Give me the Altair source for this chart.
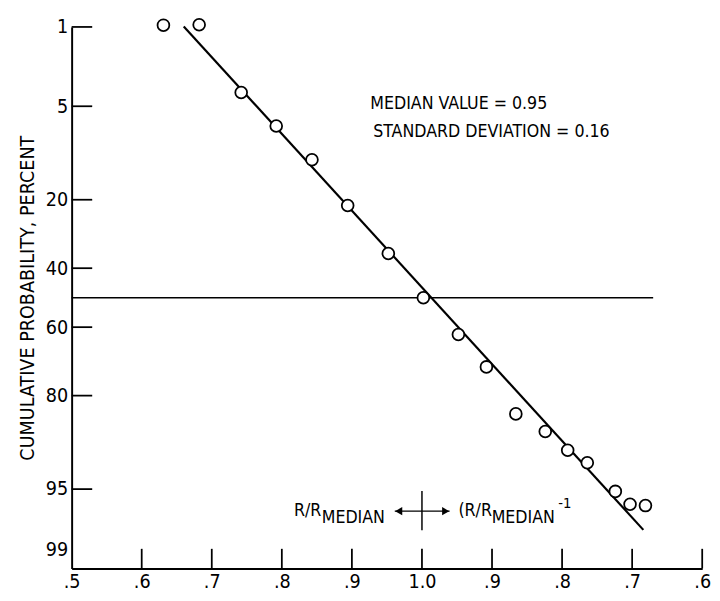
import altair as alt
import pandas as pd
from statistics import NormalDist

FONT = "DejaVu Sans Condensed, Liberation Sans Narrow, Roboto Condensed, sans-serif"

# Observed points: position on the folded ratio axis (left: R/Rmed, right: 2 - (R/Rmed)^-1)
point_pos = [0.631, 0.682, 0.742, 0.792, 0.843, 0.894, 0.952, 1.002, 1.052, 1.092,
             1.134, 1.176, 1.208, 1.236, 1.276, 1.297, 1.319]
# Cumulative probability, percent
point_pct = [0.96, 0.95, 3.9, 7.0, 11.8, 21.4, 35.2, 50.0, 62.4, 72.4,
             84.1, 87.5, 90.5, 92.2, 95.2, 96.2, 96.3]

# Fitted straight line (end points)
fit_pos = [0.660, 1.316]
fit_pct = [0.99, 97.7]

# Horizontal 50 % reference line
median_pos = [0.5, 1.33]
median_pct = [50.0, 50.0]

x_tick_values = [0.5, 0.6, 0.7, 0.8, 0.9, 1.0, 1.1, 1.2, 1.3, 1.4]
y_tick_pcts = [1, 5, 20, 40, 60, 80, 95, 99]

stats_lines = ["MEDIAN VALUE = 0.95", "STANDARD DEVIATION = 0.16"]

nd = NormalDist()


def z(p):
    return nd.inv_cdf(p / 100.0)


W, H = 644, 553
ymin, ymax = z(1), z(99)

xscale = alt.Scale(domain=[0.5, 1.4], nice=False, zero=False)
yscale = alt.Scale(domain=[ymin, ymax], reverse=True, nice=False, zero=False)

pts = pd.DataFrame({"pos": point_pos, "z": [z(p) for p in point_pct]})
fit = pd.DataFrame({"pos": fit_pos, "z": [z(p) for p in fit_pct]})
med = pd.DataFrame({"pos": median_pos, "z": [z(p) for p in median_pct]})
xt = pd.DataFrame({"pos": x_tick_values[1:]})
yt = pd.DataFrame({"z": [z(p) for p in y_tick_pcts[:-1]]})

x_axis = alt.Axis(
    values=x_tick_values,
    labelExpr="datum.value == 1 ? '1.0' : replace(format(datum.value <= 1 ? datum.value : 2 - datum.value, '.1f'), '0.', '.')",
    ticks=False, grid=False, domainWidth=2, domainColor="black",
    labelFont=FONT, labelFontSize=20, labelColor="black", labelPadding=4,
    labelFlush=False, labelOverlap=False, title=None,
)
y_axis = alt.Axis(
    values=[z(p) for p in y_tick_pcts],
    labelExpr="format(cumulativeNormal(datum.value) * 100, '.0f')",
    ticks=False, grid=False, domainWidth=2, domainColor="black",
    labelFont=FONT, labelFontSize=20, labelColor="black", labelPadding=4,
    labelOffset={"condition": {"test": "datum.value > 2", "value": -19}, "value": 0},
    labelFlush=False, labelOverlap=False,
    title="CUMULATIVE PROBABILITY, PERCENT", titleFont=FONT, titleFontSize=20,
    titleFontWeight="normal", titleColor="black", titlePadding=8,
)

base_x = alt.X("pos:Q", scale=xscale, axis=x_axis)
base_y = alt.Y("z:Q", scale=yscale, axis=y_axis)

median_line = alt.Chart(med).mark_line(color="black", strokeWidth=1.5).encode(x=base_x, y=base_y)
fit_line = alt.Chart(fit).mark_line(color="black", strokeWidth=2.2).encode(
    x=alt.X("pos:Q", scale=xscale), y=alt.Y("z:Q", scale=yscale))
points = alt.Chart(pts).mark_point(shape="circle", size=145, filled=False, fill="white",
                                   fillOpacity=1, stroke="black", strokeWidth=1.8).encode(
    x=alt.X("pos:Q", scale=xscale), y=alt.Y("z:Q", scale=yscale))

x_ticks = alt.Chart(xt).mark_rule(color="black", strokeWidth=1.8).encode(
    x=alt.X("pos:Q", scale=xscale), y=alt.value(H), y2=alt.value(H - 20))
y_ticks = alt.Chart(yt).mark_rule(color="black", strokeWidth=1.8).encode(
    y=alt.Y("z:Q", scale=yscale), x=alt.value(0), x2=alt.value(21))

stats_df = pd.DataFrame({"t": stats_lines, "xo": [305, 308], "yo": [84, 112]})
stats = alt.Chart(stats_df).mark_text(font=FONT, fontSize=18, align="left", baseline="alphabetic",
                                      color="black").encode(
    text="t:N", x=alt.X("xo:Q", scale=None), y=alt.Y("yo:Q", scale=None))

# Cross with arrows at R/Rmedian = 1.0
cx = alt.Chart(pd.DataFrame({"pos": [1.0]})).mark_rule(color="black", strokeWidth=1.5).encode(
    x=alt.X("pos:Q", scale=xscale), y=alt.value(474), y2=alt.value(514))
cy = alt.Chart(pd.DataFrame({"a": [0]})).mark_rule(color="black", strokeWidth=1.5).encode(
    x=alt.value(330), x2=alt.value(386), y=alt.value(494.5))
arrows = alt.Chart(pd.DataFrame({"xo": [334, 382], "s": ["triangle-left", "triangle-right"]})).mark_point(
    filled=True, color="black", size=70, opacity=1).encode(
    x=alt.X("xo:Q", scale=None), y=alt.value(494.5),
    shape=alt.Shape("s:N", scale=None))

ann_df = pd.DataFrame({
    "t": ["R/R", "MEDIAN", "(R/R", "MEDIAN", "-1"],
    "xo": [255, 320, 395, 429, 497],
    "yo": [499, 507, 499, 507, 491],
    "al": ["right", "right", "left", "left", "left"],
    "fs": [18, 18, 18, 18, 15],
})
ann_left = alt.Chart(ann_df[ann_df["al"] == "right"]).mark_text(
    font=FONT, align="right", baseline="alphabetic", color="black").encode(
    text="t:N", x=alt.X("xo:Q", scale=None), y=alt.Y("yo:Q", scale=None),
    size=alt.Size("fs:Q", scale=None))
ann_right = alt.Chart(ann_df[ann_df["al"] == "left"]).mark_text(
    font=FONT, align="left", baseline="alphabetic", color="black").encode(
    text="t:N", x=alt.X("xo:Q", scale=None), y=alt.Y("yo:Q", scale=None),
    size=alt.Size("fs:Q", scale=None))

chart = alt.layer(
    median_line, fit_line, x_ticks, y_ticks, points, stats, cx, cy, arrows, ann_left, ann_right
).properties(
    width=W, height=H,
    autosize=alt.AutoSizeParams(type="none"),
    padding={"left": 65, "top": 13, "right": 10, "bottom": 30},
).configure_view(stroke=None)

chart.save("out.html", embed_options={"renderer": "svg", "actions": False})
